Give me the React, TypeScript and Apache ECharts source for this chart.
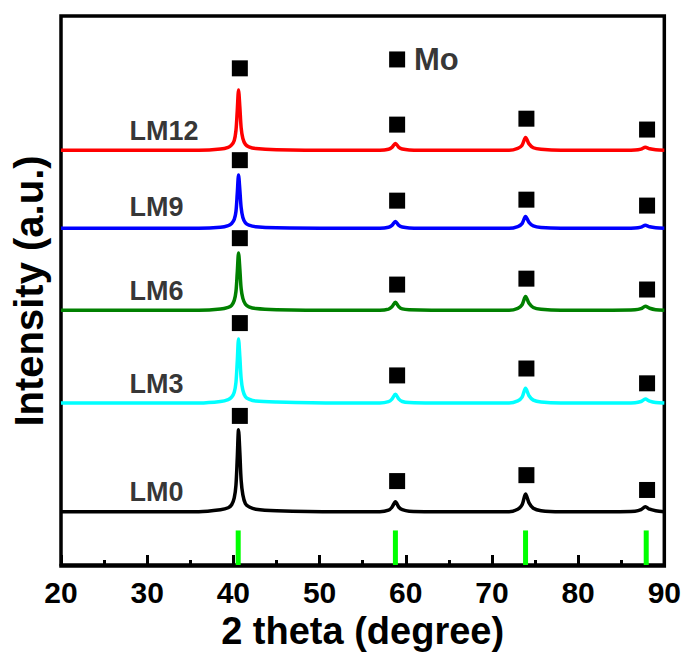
import React, { useEffect, useRef } from "react";
import * as echarts from "echarts";

// 2θ positions shared by all patterns
const angles = [20, 30, 36, 38.5, 39.4, 39.8, 40.1, 40.3, 40.45, 40.6, 40.75, 40.9, 41.1, 41.4, 41.8, 42.6, 45, 52, 57, 58.0, 58.4, 58.8, 59.2, 59.6, 60.4, 63, 68, 72, 73.0, 73.5, 73.9, 74.3, 74.8, 75.7, 78, 84, 86.6, 87.3, 87.8, 88.3, 89.0, 90];

// Offset intensities (a.u.)
const lm0 = [54, 54, 54, 56, 58, 61, 68, 81, 108, 137, 114, 86, 71, 62, 59, 56.5, 55, 54, 54, 55.5, 58.5, 64, 58.5, 56, 54.5, 54, 54, 54, 56.5, 61, 72, 63, 57.5, 55, 54, 54, 54.5, 56, 59, 56.5, 55, 54];
const lm3 = [164, 164, 164, 165.5, 167.5, 170, 175, 185, 206, 229, 211, 189, 177, 170.5, 168, 166, 165, 164, 164, 165.4, 168, 173, 168, 165.6, 164.5, 164, 164, 164, 166.2, 170, 179, 171.5, 167, 165, 164, 164, 164.4, 165.6, 168, 166, 164.6, 164];
const lm6 = [258, 258, 258, 259.2, 261, 263, 268, 277, 296, 316, 300, 280, 270, 264, 261.5, 259.7, 258.6, 258, 258, 259.2, 261.6, 266, 261.6, 259.4, 258.5, 258, 258, 258, 260, 263.6, 272, 265, 260.8, 259, 258, 258, 258.4, 259.6, 262, 260, 258.6, 258];
const lm9 = [341, 341, 341, 342, 343.7, 345.9, 350, 358, 376, 395, 380, 362, 352, 346.5, 344.2, 342.6, 341.5, 341, 341, 342, 344, 348, 344, 342.3, 341.4, 341, 341, 341, 342.8, 345.8, 353, 347, 343.4, 341.8, 341, 341, 341.3, 342.2, 344, 342.5, 341.5, 341];
const lm12 = [420, 420, 420, 421.2, 423, 425.5, 430, 440, 460, 481, 464, 443, 432, 426, 423.5, 421.8, 420.6, 420, 420, 421, 423, 427, 423, 421.3, 420.4, 420, 420, 420, 422, 425.2, 433, 426.5, 422.6, 421, 420, 420, 420.3, 421.2, 423, 421.5, 420.5, 420];

const seriesNames = ["LM0", "LM3", "LM6", "LM9", "LM12"];
const seriesValues = [lm0, lm3, lm6, lm9, lm12];
const seriesColors = ["#000000", "#00ffff", "#008000", "#0000ff", "#ff0000"];

// Mo peak markers (angle, height) per pattern
const markerAngles = [40.75, 59.0, 74.0, 88.0];
const markerHeights = [
  [151, 85, 91, 76],
  [245, 192, 199, 184],
  [331, 284, 290, 279],
  [410, 369, 370, 364],
  [503, 446, 452, 441],
];

// Sample label anchors
const labelAngle = 27.9;
const labelHeights = [74, 183, 278, 363, 440];

// Mo reference (PDF) lines
const refAngles = [40.56, 58.8, 73.9, 87.9];
const refHeights = [35, 35, 35, 35];

// Legend
const legendPoint = [59.0, 512];
const legendTextPoint = [60.9, 512];

const FONT = "'Liberation Sans', Arial, sans-serif";

export default function App() {
  const ref = useRef<HTMLDivElement>(null);
  useEffect(() => {
    if (!ref.current) return;
    const chart = echarts.init(ref.current, undefined, { renderer: "svg" });
    const series: any[] = [];
    seriesValues.forEach((vals, i) => {
      series.push({
        type: "line",
        name: seriesNames[i],
        data: angles.map((a, j) => [a, vals[j]]),
        showSymbol: false,
        smooth: 0.3,
        lineStyle: { color: seriesColors[i], width: 3.5 },
        z: 3,
      });
    });
    series.push({
      type: "scatter",
      symbol: "rect",
      symbolSize: 16,
      itemStyle: { color: "#000", opacity: 1 },
      data: markerHeights.flatMap((hs) => hs.map((h, k) => [markerAngles[k], h])),
      z: 4,
    });
    series.push({
      type: "scatter",
      symbolSize: 1,
      itemStyle: { color: "transparent" },
      data: labelHeights.map((h, i) => ({ value: [labelAngle, h], name: seriesNames[i] })),
      label: {
        show: true,
        position: "right",
        distance: 0,
        formatter: (p: any) => p.name,
        fontFamily: FONT,
        fontWeight: "bold",
        fontSize: 27,
        color: "#000",
      },
    });
    series.push({
      type: "scatter",
      symbol: "rect",
      symbolSize: 16,
      itemStyle: { color: "#000", opacity: 1 },
      data: [legendPoint],
    });
    series.push({
      type: "scatter",
      symbolSize: 1,
      itemStyle: { color: "transparent" },
      data: [{ value: legendTextPoint, name: "Mo" }],
      label: {
        show: true,
        position: "right",
        distance: 0,
        formatter: "Mo",
        fontFamily: FONT,
        fontWeight: "bold",
        fontSize: 31,
        color: "#000",
      },
    });
    series.push({
      type: "bar",
      barWidth: 5,
      itemStyle: { color: "#00ff00", opacity: 1 },
      data: refAngles.map((a, i) => [a, refHeights[i]]),
      z: 2,
    });

    chart.setOption({
      animation: false,
      grid: {
        left: 61,
        right: 19,
        top: 16,
        bottom: 82,
        show: true,
        borderColor: "#000",
        borderWidth: 3.5,
        backgroundColor: "transparent",
      },
      xAxis: {
        type: "value",
        min: 20,
        max: 90,
        interval: 10,
        axisLine: { show: true, lineStyle: { color: "#000", width: 3.5 } },
        axisTick: { show: true, inside: true, length: 10, lineStyle: { color: "#000", width: 3 } },
        minorTick: { show: true, splitNumber: 2, length: 5, lineStyle: { color: "#000", width: 3 } },
        splitLine: { show: false },
        axisLabel: {
          fontFamily: FONT,
          fontWeight: "bold",
          fontSize: 30,
          color: "#000",
          margin: 11,
        },
        name: "2 theta (degree)",
        nameLocation: "middle",
        nameGap: 46,
        nameTextStyle: { fontFamily: FONT, fontWeight: "bold", fontSize: 38, color: "#000" },
      },
      yAxis: {
        type: "value",
        min: -1,
        max: 556,
        axisLine: { show: false },
        axisTick: { show: false },
        axisLabel: { show: false },
        splitLine: { show: false },
        name: "Intensity (a.u.)",
        nameLocation: "middle",
        nameRotate: 90,
        nameGap: 12,
        nameTextStyle: { fontFamily: FONT, fontWeight: "bold", fontSize: 40, color: "#000" },
      },
      series,
    });
    return () => chart.dispose();
  }, []);
  return <div ref={ref} style={{ width: 684, height: 655, position: "absolute", left: 0, top: 0 }} />;
}
